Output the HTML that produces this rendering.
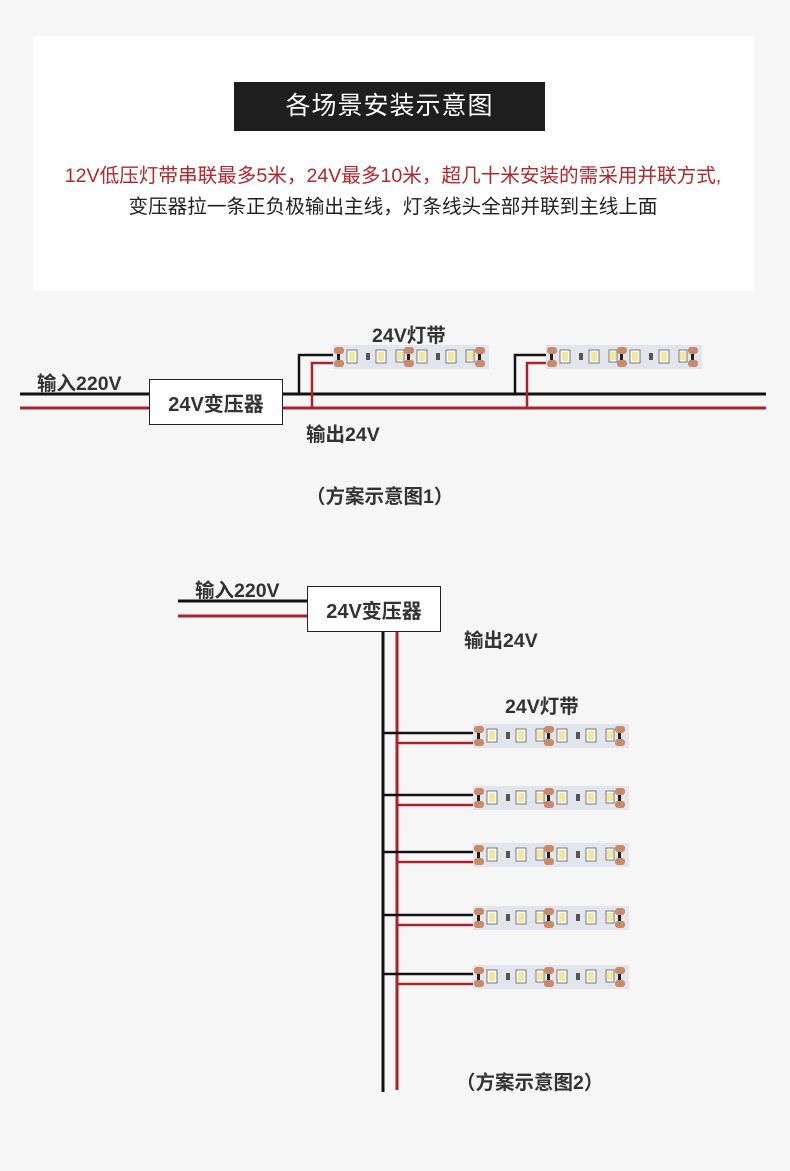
<!DOCTYPE html>
<html><head><meta charset="utf-8"><style>
html,body{margin:0;padding:0;}
body{width:790px;height:1171px;background:#f6f6f7;position:relative;overflow:hidden;font-family:"Liberation Sans","Noto Sans CJK SC",sans-serif;}
.card{position:absolute;left:33px;top:36px;width:721px;height:255px;background:#fff;}
.title{position:absolute;left:234px;top:82px;width:311px;height:49px;background:#1e1e1e;color:#fff;font-size:25px;line-height:49px;text-align:center;letter-spacing:1px;}
.t{position:absolute;white-space:nowrap;color:#333;}
.b{font-size:19.5px;font-weight:bold;}
svg{position:absolute;left:0;top:0;}
</style></head><body>
<div class="card"></div>
<div class="title">各场景安装示意图</div>
<div class="t" style="left:0;width:786px;text-align:center;top:159px;font-size:19.6px;color:#b3262b;">12V低压灯带串联最多5米，24V最多10米，超几十米安装的需采用并联方式,</div>
<div class="t" style="left:0;width:786px;text-align:center;top:190px;font-size:19.6px;color:#222;">变压器拉一条正负极输出主线，灯条线头全部并联到主线上面</div>

<svg width="790" height="1171" viewBox="0 0 790 1171">
<defs>
<g id="strip">
<rect x="0" y="0" width="156" height="24" fill="#e3e5ec"/>
<g id="seg">
<rect x="1" y="2" width="10" height="7" rx="3" fill="#c88a68"/>
<rect x="1" y="15" width="10" height="7" rx="3" fill="#c88a68"/>
<rect x="4" y="9" width="3" height="6" fill="#222"/>
<rect x="14" y="5" width="10" height="13" fill="#fff" stroke="#777" stroke-width="1"/>
<rect x="16" y="7" width="6" height="9" fill="#f2e7a0"/>
<rect x="33" y="8" width="4" height="7" fill="#555"/>
<rect x="43" y="5" width="10" height="13" fill="#fff" stroke="#777" stroke-width="1"/>
<rect x="45" y="7" width="6" height="9" fill="#f2e7a0"/>
<rect x="63" y="5" width="8" height="12" fill="#fff" stroke="#777" stroke-width="1"/>
<rect x="64" y="7" width="6" height="8" fill="#f2e7a0"/>
</g>
<use href="#seg" x="70"/>
<rect x="142" y="2" width="10" height="7" rx="3" fill="#c88a68"/>
<rect x="142" y="15" width="10" height="7" rx="3" fill="#c88a68"/>
<rect x="145" y="9" width="3" height="6" fill="#222"/>
</g>
</defs>
<g fill="none" stroke-width="3">
<path d="M20 394H766" stroke="#111"/>
<path d="M20 408H766" stroke="#a8242a"/>
<path d="M299 394V355H333M515 394V355H546" stroke="#111" stroke-width="2.5"/>
<path d="M312 408V363H333M527 408V363H546" stroke="#a8242a" stroke-width="2.5"/>
</g>
<rect x="149.5" y="379.5" width="133" height="45" fill="#fff" stroke="#222" stroke-width="1"/>
<use href="#strip" x="333" y="345"/>
<use href="#strip" x="546" y="345"/>
<g fill="none" stroke-width="3">
<path d="M178 601H307" stroke="#111"/>
<path d="M178 616H307" stroke="#a8242a"/>
<path d="M383 631V1092" stroke="#111"/>
<path d="M397 631V1090" stroke="#a8242a"/>
<path d="M383 733H473M383 795H473M383 852H473M383 915H473M383 974H473" stroke="#111" stroke-width="2.5"/>
<path d="M397 743H473M397 805H473M397 862H473M397 925H473M397 984H473" stroke="#a8242a" stroke-width="2.5"/>
</g>
<rect x="307.5" y="586.5" width="133" height="45" fill="#fff" stroke="#222" stroke-width="1"/>
<use href="#strip" x="473" y="724"/>
<use href="#strip" x="473" y="786"/>
<use href="#strip" x="473" y="843"/>
<use href="#strip" x="473" y="906"/>
<use href="#strip" x="473" y="965"/>
</svg>

<div class="t b" style="left:37px;top:367px;">输入220V</div>
<div class="t" style="left:149px;top:388px;width:134px;text-align:center;font-size:20px;font-weight:bold;">24V变压器</div>
<div class="t b" style="left:372px;top:319px;">24V灯带</div>
<div class="t b" style="left:306px;top:418px;">输出24V</div>
<div class="t b" style="left:306px;top:480px;">（方案示意图1）</div>

<div class="t b" style="left:195px;top:574px;">输入220V</div>
<div class="t" style="left:307px;top:595px;width:134px;text-align:center;font-size:20px;font-weight:bold;">24V变压器</div>
<div class="t b" style="left:464px;top:624px;">输出24V</div>
<div class="t b" style="left:505px;top:690px;">24V灯带</div>
<div class="t b" style="left:456px;top:1066px;">（方案示意图2）</div>
</body></html>
